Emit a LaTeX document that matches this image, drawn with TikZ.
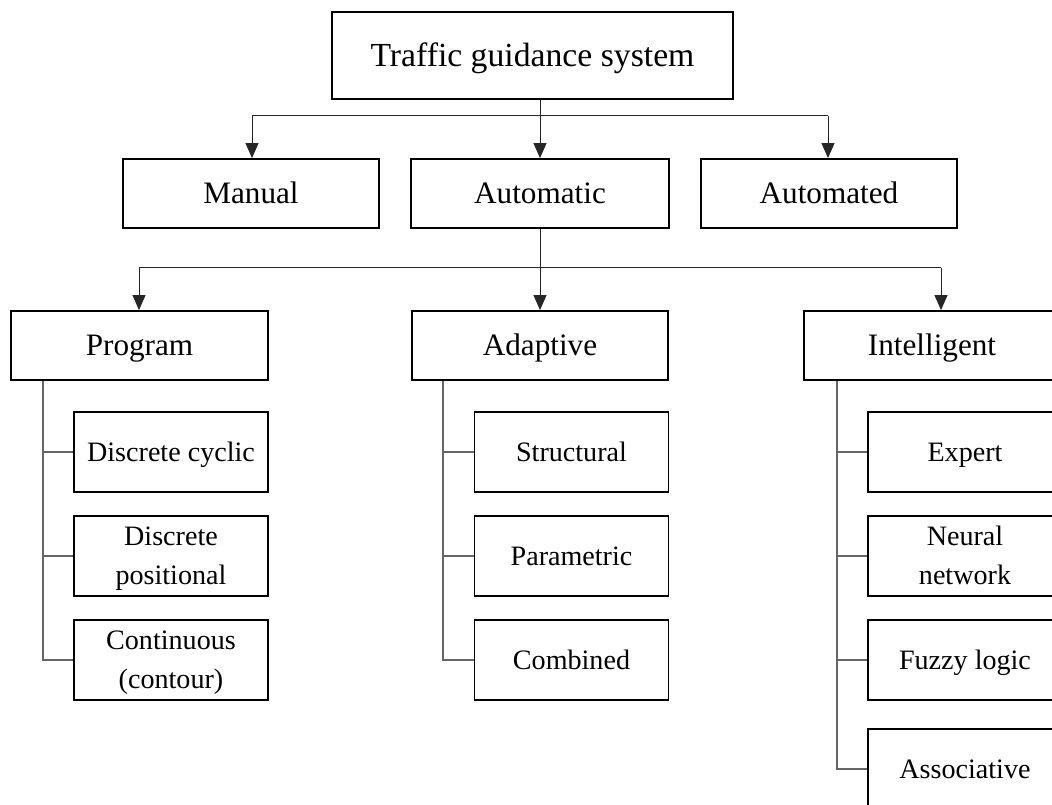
\documentclass[tikz,border=0pt]{standalone}
\usepackage{fontspec}
\setmainfont{Liberation Serif}
\usetikzlibrary{arrows.meta}
\newcommand\twoline[2]{\vbox{\halign{\hfil##\hfil\cr #1\cr #2\cr}}}
\tikzset{
  box/.style={draw=black, line width=1.8pt, fill=white, inner sep=0pt, text depth=0pt},
  topbox/.style={box, text height=22.1pt, minimum width=401pt, minimum height=87pt, font=\fontsize{33.7}{40}\selectfont},
  lvbox/.style={box, text height=20.4pt, minimum height=69pt, font=\fontsize{31.2}{36}\selectfont},
  leafbox/.style={box, text height=18.4pt, minimum width=194pt, minimum height=80pt, font=\fontsize{28.1}{38.5}\selectfont},
  leaftwo/.style={leafbox, text height=56.9pt},
  conn/.style={draw=black!85, line width=1pt},
  arr/.style={conn, -{Triangle[length=15pt,width=13pt]}},
  treeline/.style={draw=black!60, line width=1.2pt},
}
\begin{document}
\begin{tikzpicture}[x=1pt,y=-1pt]
\useasboundingbox (0,0) rectangle (1052,804);
\clip (0,0) rectangle (1052,804);
% top
\node[topbox] (top) at (532.5,55.5) {Traffic guidance system};
% level 2
\node[lvbox, minimum width=256pt] (manual) at (251,193.5) {Manual};
\node[lvbox, minimum width=258pt] (auto) at (540,193.5) {Automatic};
\node[lvbox, minimum width=256pt] (autod) at (829,193.5) {Automated};
% level 3
\node[lvbox, minimum width=257pt] (prog) at (139.5,345.5) {Program};
\node[lvbox, minimum width=256pt] (adapt) at (540,345.5) {Adaptive};
\node[lvbox, minimum width=256pt] (intel) at (932,345.5) {Intelligent};
% leaves
\node[leafbox] (p1) at (171,452) {Discrete cyclic};
\node[leaftwo] (p2) at (171,556) {\twoline{Discrete}{positional}};
\node[leaftwo] (p3) at (171,660) {\twoline{Continuous}{(contour)}};
\node[leafbox] (a1) at (571.5,452) {Structural};
\node[leafbox] (a2) at (571.5,556) {Parametric};
\node[leafbox] (a3) at (571.5,660) {Combined};
\node[leafbox] (i1) at (965,452) {Expert};
\node[leaftwo] (i2) at (965,556) {\twoline{Neural}{network}};
\node[leafbox] (i3) at (965,660) {Fuzzy logic};
\node[leafbox] (i4) at (965,769) {Associative};
% bus 1
\coordinate (b1l) at (252,115.5);
\coordinate (b1r) at (828,115.5);
\draw[conn] (b1l) -- (b1r);
\draw[arr] (top.south -| auto.north) -- (auto.north);
\draw[arr] (b1l) -- (b1l |- manual.north);
\draw[arr] (b1r) -- (b1r |- autod.north);
% bus 2
\coordinate (b2l) at (139,267.5);
\coordinate (b2m) at (540,267.5);
\coordinate (b2r) at (941,267.5);
\draw[conn] (auto.south) -- (b2m);
\draw[conn] (b2l) -- (b2r);
\draw[arr] (b2l) -- (b2l |- prog.north);
\draw[arr] (b2m) -- (adapt.north);
\draw[arr] (b2r) -- (b2r |- intel.north);
% trees
\coordinate (tp) at (43,380);
\coordinate (ta) at (443,380);
\coordinate (ti) at (837,380);
\draw[treeline] (tp |- prog.south) -- (tp |- p3.west) -- (p3.west);
\draw[treeline] (tp |- p1.west) -- (p1.west);
\draw[treeline] (tp |- p2.west) -- (p2.west);
\draw[treeline] (ta |- adapt.south) -- (ta |- a3.west) -- (a3.west);
\draw[treeline] (ta |- a1.west) -- (a1.west);
\draw[treeline] (ta |- a2.west) -- (a2.west);
\draw[treeline] (ti |- intel.south) -- (ti |- i4.west) -- (i4.west);
\draw[treeline] (ti |- i1.west) -- (i1.west);
\draw[treeline] (ti |- i2.west) -- (i2.west);
\draw[treeline] (ti |- i3.west) -- (i3.west);
\end{tikzpicture}
\end{document}
